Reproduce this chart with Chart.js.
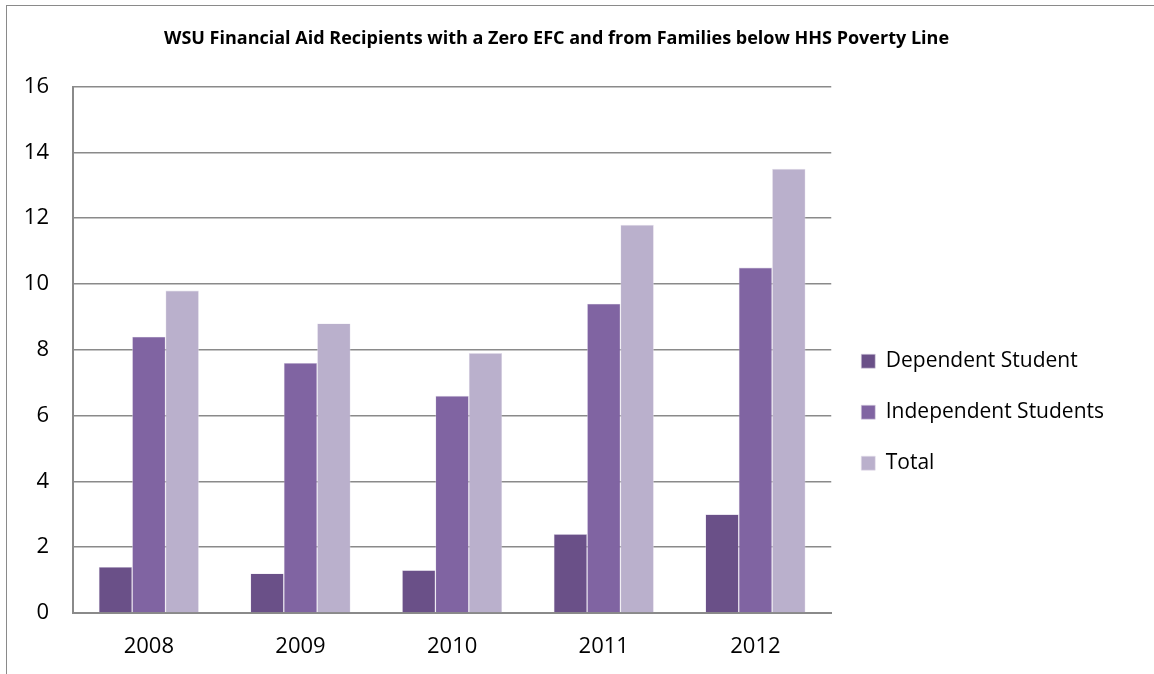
<!DOCTYPE html>
<html>
<head>
<meta charset="utf-8">
<script src="https://cdn.jsdelivr.net/npm/chart.js@4"></script>
<style>
    html, body { margin: 0; padding: 0; background: #fff; }
    #wrap {
        position: absolute; left: 6px; top: 5px; width: 1148px; height: 669px;
        border-left: 1.5px solid #8a8a8a; border-top: 1.5px solid #8a8a8a;
        box-sizing: border-box;
    }
</style>
</head>
<body>
<div id="wrap"><canvas id="aidChart" width="1146" height="668"></canvas></div>
<script>
    const years = ['2008', '2009', '2010', '2011', '2012'];
    const dependent = [1.4, 1.2, 1.3, 2.4, 3.0];
    const independent = [8.4, 7.6, 6.6, 9.4, 10.5];
    const total = [9.8, 8.8, 7.9, 11.8, 13.5];
    const yTicks = [0, 2, 4, 6, 8, 10, 12, 14, 16];

    const font = '"Open Sans", Lato, sans-serif';

    const aidChart = new Chart(
        document.getElementById('aidChart'),
        {
            type: 'bar',
            data: {
                labels: years,
                datasets: [{
                    label: 'Dependent Student',
                    data: dependent,
                    backgroundColor: '#6a5088',
                    borderColor: '#d9d2e3',
                    borderWidth: 0.6
                }, {
                    label: 'Independent Students',
                    data: independent,
                    backgroundColor: '#8064a2',
                    borderColor: '#d9d2e3',
                    borderWidth: 0.6
                }, {
                    label: 'Total',
                    data: total,
                    backgroundColor: '#bab0cc',
                    borderColor: '#e4dfeb',
                    borderWidth: 0.6
                }]
            },
            options: {
                responsive: false,
                animation: false,
                layout: { padding: { left: 0, right: 47, top: 0, bottom: 0 } },
                categoryPercentage: 0.66,
                barPercentage: 1.0,
                plugins: {
                    title: {
                        display: true,
                        text: 'WSU Financial Aid Recipients with a Zero EFC and from Families below HHS Poverty Line',
                        color: '#000',
                        font: { family: font, size: 18, weight: 'bold' },
                        padding: { top: 22, bottom: 37 }
                    },
                    legend: {
                        position: 'right',
                        // empty title pushes the legend entries down a bit
                        title: { display: true, text: '', padding: { top: 130, bottom: 0 } },
                        labels: {
                            color: '#000',
                            font: { family: font, size: 21 },
                            boxWidth: 14,
                            boxHeight: 14,
                            padding: 30
                        }
                    },
                    tooltip: { enabled: false }
                },
                scales: {
                    x: {
                        afterFit: axis => { axis.height = 61; },
                        grid: { display: false },
                        border: { color: '#8a8a8a', width: 2 },
                        ticks: { color: '#000', font: { family: font, size: 22 }, padding: 13 }
                    },
                    y: {
                        min: 0,
                        max: 16,
                        afterBuildTicks: axis => { axis.ticks = yTicks.map(v => ({ value: v })); },
                        afterFit: axis => { axis.width = 66; },
                        grid: { color: '#8a8a8a', lineWidth: 1.5, drawTicks: false },
                        border: { color: '#8a8a8a', width: 2 },
                        ticks: { color: '#000', font: { family: font, size: 22 }, padding: 24 }
                    }
                }
            }
        }
    );
</script>
</body>
</html>
